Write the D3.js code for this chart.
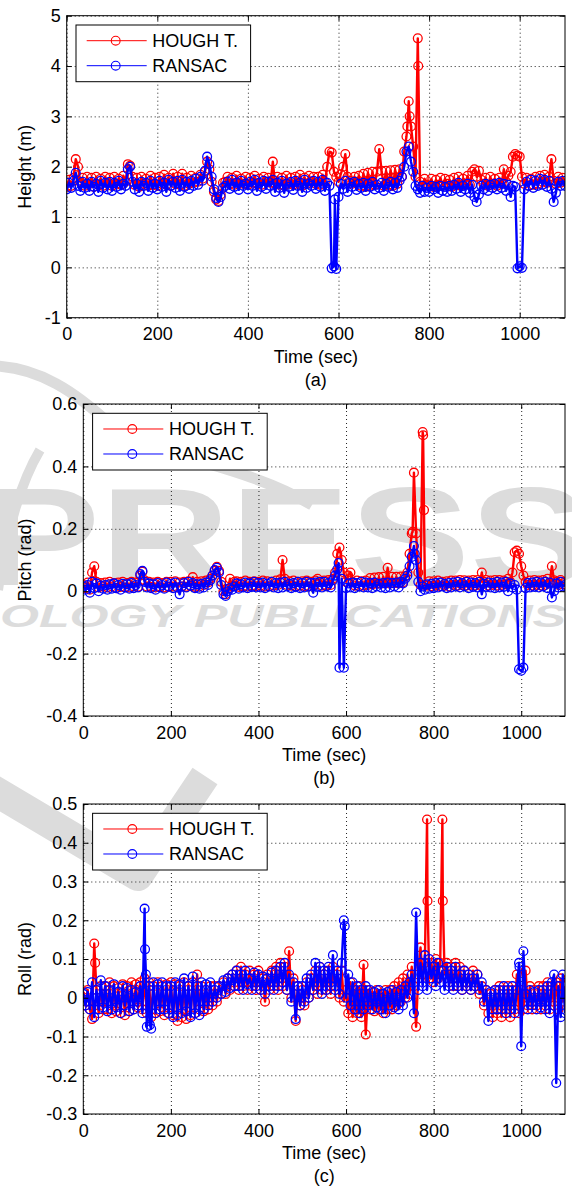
<!DOCTYPE html>
<html>
<head>
<meta charset="utf-8">
<script src="https://cdn.jsdelivr.net/npm/d3@7"></script>
<style>
  body { margin: 0; background: #fff; }
  svg { display: block; font-family: "Liberation Sans", Arial, sans-serif; }
</style>
</head>
<body>
<svg id="chart" width="572" height="1189"></svg>
<script>
// sample instants (sec), one reading every 5 s
var time = d3.range(0, 1101, 5);
var xTicks = [0, 200, 400, 600, 800, 1000];

// (a) height (m)
var heightHough = [
  1.60,1.74,1.62,1.78,2.15,2.00,1.70,1.78,1.62,1.80,
  1.66,1.78,1.60,1.80,1.64,1.76,1.62,1.80,1.68,1.78,
  1.62,1.80,1.66,1.76,1.64,1.82,1.70,2.05,2.02,1.80,
  1.64,1.78,1.60,1.80,1.66,1.76,1.62,1.82,1.64,1.78,
  1.62,1.80,1.66,1.84,1.64,1.78,1.62,1.86,1.66,1.80,
  1.64,1.86,1.62,1.78,1.66,1.82,1.68,1.78,1.70,1.84,
  1.76,1.90,2.10,1.95,1.70,1.50,1.35,1.32,1.45,1.68,
  1.70,1.80,1.66,1.78,1.64,1.82,1.68,1.76,1.66,1.80,
  1.64,1.78,1.68,1.82,1.66,1.76,1.64,1.80,1.70,1.78,
  1.68,2.10,1.66,1.80,1.64,1.78,1.62,1.82,1.66,1.78,
  1.64,1.80,1.68,1.84,1.62,1.78,1.66,1.82,1.70,1.80,
  1.66,1.80,1.64,1.84,1.70,2.00,2.30,2.28,1.90,1.80,
  1.70,1.85,2.00,2.25,1.80,1.72,1.66,1.80,1.70,1.82,
  1.62,1.86,1.60,1.88,1.62,1.90,1.64,1.90,2.35,1.92,
  1.62,1.92,1.64,1.93,1.62,1.94,1.66,1.95,1.80,2.30,
  2.60,3.30,2.80,2.40,1.80,4.55,1.70,1.62,1.76,1.64,
  1.62,1.76,1.60,1.74,1.64,1.78,1.62,1.76,1.66,1.74,
  1.60,1.78,1.64,1.80,1.62,1.76,1.66,1.82,1.64,1.90,
  1.95,1.80,1.92,1.74,1.66,1.78,1.62,1.80,1.66,1.76,
  1.62,1.78,1.66,1.95,1.70,1.82,1.90,2.20,2.25,2.22,
  2.20,1.80,1.66,1.78,1.62,1.76,1.64,1.80,1.66,1.82,
  1.70,1.84,1.68,1.80,2.15,1.72,1.66,1.80,1.68,1.78,
  1.72
];
var heightHoughExtra = [[752, 2.8], [757, 3.0], [776, 4.0]];

var heightRansac = [
  1.55,1.68,1.58,1.72,1.88,1.62,1.52,1.70,1.58,1.66,
  1.52,1.70,1.60,1.66,1.50,1.72,1.58,1.68,1.55,1.70,
  1.52,1.68,1.60,1.72,1.55,1.66,1.62,1.95,2.00,1.70,
  1.55,1.66,1.50,1.70,1.62,1.68,1.52,1.72,1.58,1.66,
  1.55,1.72,1.60,1.68,1.50,1.74,1.62,1.70,1.58,1.72,
  1.52,1.74,1.60,1.70,1.56,1.72,1.62,1.76,1.64,1.80,
  1.72,1.92,2.20,2.05,1.80,1.55,1.38,1.30,1.40,1.58,
  1.62,1.70,1.56,1.74,1.60,1.68,1.54,1.72,1.62,1.66,
  1.55,1.70,1.62,1.74,1.52,1.68,1.60,1.72,1.56,1.70,
  1.62,1.74,1.50,1.68,1.58,1.72,1.48,1.66,1.60,1.70,
  1.54,1.72,1.62,1.68,1.50,1.74,1.58,1.66,1.62,1.72,
  1.56,1.70,1.60,1.74,1.52,1.68,1.62,-0.02,0.02,-0.03,
  1.40,1.66,1.56,1.72,1.50,1.68,1.60,1.70,1.54,1.66,
  1.58,1.68,1.52,1.66,1.60,1.70,1.55,1.64,1.58,1.68,
  1.52,1.66,1.60,1.70,1.55,1.68,1.58,1.72,1.80,2.00,
  2.30,2.40,2.10,1.90,1.62,1.55,1.48,1.62,1.50,1.58,
  1.50,1.62,1.55,1.60,1.48,1.62,1.52,1.60,1.50,1.62,
  1.52,1.64,1.56,1.68,1.50,1.62,1.55,1.66,1.48,1.64,
  1.40,1.30,1.45,1.62,1.55,1.66,1.52,1.64,1.58,1.66,
  1.55,1.68,1.58,1.66,1.52,1.64,1.40,1.62,1.60,-0.02,
  0.02,-0.01,1.55,1.70,1.62,1.74,1.58,1.72,1.62,1.76,
  1.64,1.74,1.60,1.72,1.56,1.30,1.48,1.70,1.62,1.72,
  1.62
];
var heightRansacExtra = [[592, 1.35]];

// (b) pitch (rad)
var pitchHough = [
  0.020,0.010,0.028,0.005,0.060,0.080,0.030,0.012,0.026,0.015,
  0.028,0.012,0.030,0.015,0.026,0.010,0.028,0.014,0.030,0.012,
  0.026,0.012,0.030,0.015,0.028,0.014,0.050,0.062,0.035,0.015,
  0.030,0.014,0.028,0.012,0.030,0.015,0.026,0.012,0.030,0.014,
  0.030,0.015,0.032,0.012,0.028,0.015,0.030,0.014,0.032,0.016,
  0.045,0.014,0.030,0.015,0.032,0.020,0.034,0.028,0.040,0.050,
  0.065,0.078,0.065,0.030,0.000,-0.010,0.008,0.040,0.015,0.030,
  0.032,0.014,0.030,0.016,0.034,0.015,0.030,0.018,0.032,0.016,
  0.030,0.018,0.034,0.015,0.032,0.016,0.030,0.018,0.034,0.020,
  0.038,0.100,0.040,0.020,0.032,0.018,0.034,0.015,0.030,0.018,
  0.032,0.016,0.034,0.015,0.030,0.018,0.034,0.040,0.030,0.018,
  0.034,0.018,0.036,0.020,0.040,0.060,0.120,0.140,0.100,0.060,
  0.030,0.050,0.060,0.030,0.018,0.034,0.016,0.032,0.018,0.034,
  0.020,0.042,0.022,0.044,0.024,0.045,0.024,0.046,0.026,0.075,
  0.024,0.046,0.026,0.046,0.025,0.047,0.028,0.048,0.060,0.120,
  0.185,0.380,0.185,0.060,0.020,0.510,0.020,0.018,0.032,0.016,
  0.032,0.018,0.034,0.016,0.030,0.018,0.032,0.015,0.034,0.020,
  0.034,0.018,0.036,0.020,0.035,0.018,0.034,0.020,0.036,0.018,
  0.036,0.020,0.060,0.030,0.036,0.018,0.034,0.020,0.036,0.018,
  0.036,0.020,0.034,0.022,0.040,0.030,0.060,0.125,0.130,0.120,
  0.080,0.050,0.030,0.020,0.034,0.018,0.036,0.020,0.034,0.018,
  0.036,0.020,0.040,0.025,0.080,0.035,0.030,0.020,0.036,0.022,
  0.030
];
var pitchHoughExtra = [[752, 0.19], [776, 0.50], [778, 0.26]];

var pitchRansac = [
  0.015,0.005,0.020,-0.005,0.030,0.010,0.025,0.000,0.018,0.008,
  0.020,0.005,0.022,0.008,0.025,0.010,0.020,0.005,0.024,0.012,
  0.022,0.008,0.026,0.010,0.020,0.012,0.055,0.065,0.030,0.012,
  0.025,0.010,0.022,0.005,0.026,0.012,0.020,0.008,0.028,0.015,
  0.024,0.010,0.028,0.012,-0.010,0.015,0.026,0.012,0.030,0.018,
  0.026,0.010,0.022,0.008,0.024,0.012,0.028,0.020,0.035,0.050,
  0.068,0.075,0.060,0.020,-0.010,-0.015,0.000,0.010,0.005,0.015,
  0.025,0.008,0.022,0.012,0.028,0.010,0.025,0.014,0.030,0.012,
  0.026,0.012,0.028,0.010,0.024,0.015,0.030,0.012,0.026,0.010,
  0.028,0.012,0.030,0.015,0.024,0.010,0.026,0.014,0.030,0.010,
  0.026,0.012,0.030,0.015,0.026,-0.005,0.028,0.014,0.030,0.012,
  0.030,0.015,0.026,0.012,0.035,0.050,0.070,-0.245,0.040,-0.245,
  0.010,0.025,0.012,0.028,0.010,0.026,0.015,0.030,0.012,0.028,
  0.012,0.026,0.010,0.028,0.015,0.024,0.012,0.026,0.010,0.028,
  0.012,0.026,0.015,0.028,0.012,0.030,0.025,0.040,0.050,0.080,
  0.110,0.145,0.100,0.030,0.000,0.015,0.005,0.022,0.008,0.024,
  0.010,0.026,0.012,0.028,0.015,0.024,0.010,0.026,0.012,0.028,
  0.015,0.030,0.012,0.026,0.016,0.030,0.010,0.028,0.014,0.026,
  0.012,0.030,-0.010,0.024,0.014,0.028,0.012,0.026,0.010,0.030,
  0.012,0.028,0.014,0.030,0.000,0.025,0.012,0.020,0.005,-0.250,
  -0.255,-0.245,0.010,0.026,0.012,0.028,0.014,0.030,0.012,0.028,
  0.015,0.030,0.010,0.028,-0.020,0.000,0.025,0.012,0.030,0.015,
  0.020
];
var pitchRansacExtra = [[583, 0.09], [757, 0.12]];

// (c) roll (rad)
var rollHough = [
  0.015,-0.020,0.020,-0.030,-0.055,0.140,0.020,-0.040,0.030,-0.030,
  0.030,-0.030,0.040,-0.040,0.030,-0.035,0.025,-0.040,0.035,-0.045,
  0.030,-0.035,0.040,-0.030,0.035,-0.025,0.040,-0.030,0.050,-0.040,
  0.040,-0.050,0.030,-0.040,0.040,-0.035,0.030,-0.045,0.035,-0.040,
  0.040,-0.045,0.035,-0.060,0.030,-0.050,0.040,-0.055,0.030,-0.045,
  0.040,-0.040,0.060,-0.030,0.030,-0.035,0.020,-0.030,0.030,-0.020,
  0.030,-0.010,0.030,0.010,0.040,0.010,0.050,0.020,0.060,0.030,
  0.070,0.020,0.080,0.030,0.060,0.020,0.070,0.030,0.060,0.020,
  0.070,0.020,0.050,-0.010,0.060,0.020,0.070,0.030,0.080,0.020,
  0.090,0.030,0.080,0.020,0.120,0.000,0.050,-0.060,0.030,-0.020,
  0.020,-0.020,0.040,0.000,0.050,0.020,0.070,0.010,0.080,0.020,
  0.060,0.020,0.070,0.010,0.080,0.030,0.060,0.000,0.070,-0.010,
  0.020,-0.040,0.040,-0.050,0.020,-0.040,0.030,-0.050,0.085,-0.095,
  0.020,-0.030,0.015,-0.035,0.020,-0.030,0.010,-0.040,0.020,-0.030,
  0.020,-0.030,0.030,-0.020,0.040,-0.010,0.050,0.000,0.060,0.010,
  0.080,0.030,-0.075,0.060,0.130,0.060,0.090,0.460,0.050,0.090,
  0.040,0.100,0.050,0.090,0.460,0.060,0.090,0.040,0.080,0.030,
  0.090,0.030,0.080,0.020,0.070,0.030,0.060,0.020,0.070,0.030,
  0.060,0.010,0.030,-0.020,0.020,-0.040,0.010,-0.050,0.020,-0.040,
  0.030,-0.050,0.020,-0.040,0.030,-0.050,0.020,-0.030,0.060,-0.040,
  0.020,-0.030,0.070,-0.020,0.030,-0.030,0.020,-0.020,0.030,-0.030,
  0.030,-0.020,0.040,-0.030,0.030,-0.020,0.040,-0.030,0.050,-0.010,
  0.030
];
var rollHoughExtra = [[27, 0.09], [786, 0.25], [821, 0.25]];

var rollRansac = [
  0.010,-0.020,0.015,-0.030,0.040,-0.050,0.020,-0.030,0.045,-0.025,
  0.030,-0.035,0.020,-0.030,0.035,-0.025,0.015,-0.040,0.030,-0.020,
  0.025,-0.035,0.020,-0.030,0.015,-0.020,0.030,-0.040,0.230,-0.075,
  0.030,-0.080,0.040,-0.040,0.035,-0.030,0.040,-0.030,0.030,-0.040,
  0.030,-0.050,0.040,-0.045,0.035,-0.040,0.050,-0.035,0.030,-0.050,
  0.055,-0.040,0.030,-0.045,0.040,-0.030,0.035,-0.020,0.040,-0.010,
  0.020,0.000,0.030,0.010,0.045,0.015,0.050,0.025,0.060,0.030,
  0.070,0.030,0.060,0.020,0.070,0.035,0.050,0.020,0.065,0.030,
  0.060,0.020,0.055,0.010,0.050,0.030,0.065,0.020,0.070,0.030,
  0.080,0.040,0.090,0.020,0.060,-0.010,0.040,-0.055,0.030,-0.020,
  0.030,-0.010,0.050,0.000,0.060,0.020,0.090,0.030,0.080,0.010,
  0.070,0.020,0.080,0.030,0.110,0.020,0.070,0.010,0.090,0.200,
  0.000,0.060,-0.020,0.040,-0.030,0.030,-0.040,0.020,-0.030,0.030,
  -0.020,0.020,-0.030,0.015,-0.025,0.020,-0.030,0.010,-0.040,0.015,
  -0.020,0.020,-0.025,0.015,-0.030,0.020,-0.020,0.030,0.000,0.040,
  0.060,-0.040,0.220,0.020,0.090,0.030,0.110,0.020,0.100,0.050,
  0.080,0.030,0.090,0.040,0.070,0.020,0.080,0.030,0.070,0.020,
  0.080,0.030,0.060,0.020,0.070,0.030,0.060,0.020,0.050,0.030,
  0.060,0.020,0.040,-0.010,0.020,-0.060,0.015,-0.030,0.020,-0.030,
  0.020,-0.030,0.030,-0.040,0.020,-0.030,0.030,-0.040,0.020,0.090,
  -0.125,0.120,0.010,-0.030,0.020,-0.020,0.015,-0.030,0.020,-0.025,
  0.020,-0.030,0.030,-0.040,0.040,0.060,-0.220,0.030,-0.050,0.060,
  -0.040
];
var rollRansacExtra = [[141, 0.125], [143, 0.06], [152, -0.07], [597, 0.185], [996, 0.08]];

var seriesNames = ["HOUGH T.", "RANSAC"];
var seriesColors = ["#ff0000", "#0000ff"];

var panels = [
  { top: 15.7, bottom: 317.7, left: 66.7, right: 565, yDomain: [-1, 5],
    yTicks: [-1, 0, 1, 2, 3, 4, 5], yLabel: "Height (m)", caption: "(a)",
    series: [[heightHough, heightHoughExtra], [heightRansac, heightRansacExtra]] },
  { top: 404, bottom: 716, left: 83.3, right: 565, yDomain: [-0.4, 0.6],
    yTicks: [-0.4, -0.2, 0, 0.2, 0.4, 0.6], yLabel: "Pitch (rad)", caption: "(b)",
    series: [[pitchHough, pitchHoughExtra], [pitchRansac, pitchRansacExtra]] },
  { top: 804, bottom: 1114, left: 83.3, right: 565, yDomain: [-0.3, 0.5],
    yTicks: [-0.3, -0.2, -0.1, 0, 0.1, 0.2, 0.3, 0.4, 0.5], yLabel: "Roll (rad)", caption: "(c)",
    series: [[rollHough, rollHoughExtra], [rollRansac, rollRansacExtra]] }
];

var svg = d3.select("#chart");
var fontSize = 18;

// faint publisher watermark lying under the plots
var wm = svg.append("g").attr("fill", "#dcdcdc").style("font-weight", "bold");
wm.append("path").attr("d", "M-5,366 C40,368 75,392 110,424 S240,462 312,505")
  .attr("fill", "none").attr("stroke", "#dcdcdc").attr("stroke-width", 11);
wm.append("path").attr("d", "M-2,590 C6,530 22,480 40,450")
  .attr("fill", "none").attr("stroke", "#dcdcdc").attr("stroke-width", 10);
wm.append("path").attr("d", "M-10,788 L138,876 L205,776")
  .attr("fill", "none").attr("stroke", "#dcdcdc").attr("stroke-width", 30)
  .attr("stroke-linejoin", "round");
wm.append("text").attr("x", -20).attr("y", 585).attr("textLength", 610)
  .attr("lengthAdjust", "spacingAndGlyphs").style("font-size", "140px").text("PRESS");
wm.append("text").attr("x", 0).attr("y", 627).attr("textLength", 566)
  .attr("lengthAdjust", "spacingAndGlyphs").style("font-size", "32px")
  .style("font-style", "italic").text("OLOGY PUBLICATIONS");

panels.forEach(function (p, k) {
  var w = p.right - p.left, h = p.bottom - p.top;
  var x = d3.scaleLinear().domain([0, 1100]).range([p.left, p.right]);
  var y = d3.scaleLinear().domain(p.yDomain).range([p.bottom, p.top]);
  var g = svg.append("g");

  svg.append("clipPath").attr("id", "clip" + k)
    .append("rect").attr("x", p.left).attr("y", p.top).attr("width", w).attr("height", h);

  // dotted grid
  g.append("g").attr("transform", "translate(0," + p.bottom + ")")
    .call(d3.axisBottom(x).tickValues(xTicks).tickSize(-h).tickFormat(""))
    .call(function (a) { a.select(".domain").remove(); });
  g.append("g").attr("transform", "translate(" + p.left + ",0)")
    .call(d3.axisLeft(y).tickValues(p.yTicks).tickSize(-w).tickFormat(""))
    .call(function (a) { a.select(".domain").remove(); });
  g.selectAll(".tick line").attr("stroke", "#222").attr("stroke-dasharray", "1,3");

  // data: line + circle markers for each series
  var line = d3.line().x(function (d) { return x(d[0]); }).y(function (d) { return y(d[1]); });
  var dg = g.append("g").attr("clip-path", "url(#clip" + k + ")");
  p.series.forEach(function (s, j) {
    var pts = s[0].map(function (v, i) { return [time[i], v]; })
      .concat(s[1]).sort(function (a, b) { return a[0] - b[0]; });
    dg.append("path").attr("d", line(pts)).attr("fill", "none")
      .attr("stroke", seriesColors[j]).attr("stroke-width", 2.4)
      .attr("stroke-linejoin", "round");
    dg.append("g").selectAll("circle").data(pts).enter().append("circle")
      .attr("cx", function (d) { return x(d[0]); })
      .attr("cy", function (d) { return y(d[1]); })
      .attr("r", 4.4).attr("fill", "none")
      .attr("stroke", seriesColors[j]).attr("stroke-width", 1.3);
  });

  // axes with inward ticks on all four sides
  var ax = g.append("g").attr("class", "axes");
  ax.append("g").attr("transform", "translate(0," + p.bottom + ")")
    .call(d3.axisBottom(x).tickValues(xTicks).tickSize(-5).tickSizeOuter(0).tickPadding(10)
      .tickFormat(function (d) { return String(d); }));
  ax.append("g").attr("transform", "translate(0," + p.top + ")")
    .call(d3.axisTop(x).tickValues(xTicks).tickSize(-5).tickSizeOuter(0).tickFormat(""));
  ax.append("g").attr("transform", "translate(" + p.left + ",0)")
    .call(d3.axisLeft(y).tickValues(p.yTicks).tickSize(-5).tickSizeOuter(0).tickPadding(6)
      .tickFormat(function (d) { return String(+d.toFixed(2)); }));
  ax.append("g").attr("transform", "translate(" + p.right + ",0)")
    .call(d3.axisRight(y).tickValues(p.yTicks).tickSize(-5).tickSizeOuter(0).tickFormat(""));
  ax.selectAll(".domain").remove();
  ax.selectAll(".tick line").attr("stroke", "#000");
  ax.selectAll(".tick text").attr("fill", "#000").style("font-size", fontSize + "px")
    .style("font-family", "'Liberation Sans', Arial, sans-serif");
  g.append("rect").attr("x", p.left).attr("y", p.top).attr("width", w).attr("height", h)
    .attr("fill", "none").attr("stroke", "#000").attr("stroke-width", 1);

  // labels
  g.append("text").attr("x", (p.left + p.right) / 2).attr("y", p.bottom + 45)
    .attr("text-anchor", "middle").style("font-size", fontSize + "px").text("Time (sec)");
  g.append("text").attr("x", (p.left + p.right) / 2).attr("y", p.bottom + 68)
    .attr("text-anchor", "middle").style("font-size", fontSize + "px").text(p.caption);
  g.append("text").attr("transform", "translate(31," + (p.top + p.bottom) / 2 + ") rotate(-90)")
    .attr("text-anchor", "middle").style("font-size", fontSize + "px").text(p.yLabel);

  // legend
  var lg = g.append("g").attr("transform", "translate(" + (p.left + 9.3) + "," + (p.top + 9.3) + ")");
  lg.append("rect").attr("width", 174.6).attr("height", 56.7)
    .attr("fill", "#fff").attr("stroke", "#000").attr("stroke-width", 1);
  seriesNames.forEach(function (name, j) {
    var cy = 15.7 + j * 25;
    lg.append("line").attr("x1", 10.7).attr("x2", 70.7).attr("y1", cy).attr("y2", cy)
      .attr("stroke", seriesColors[j]).attr("stroke-width", 1);
    lg.append("circle").attr("cx", 39.7).attr("cy", cy).attr("r", 4.4)
      .attr("fill", "none").attr("stroke", seriesColors[j]).attr("stroke-width", 1.1);
    lg.append("text").attr("x", 76.3).attr("y", cy + 6.3).style("font-size", fontSize + "px").text(name);
  });
});
</script>
</body>
</html>
